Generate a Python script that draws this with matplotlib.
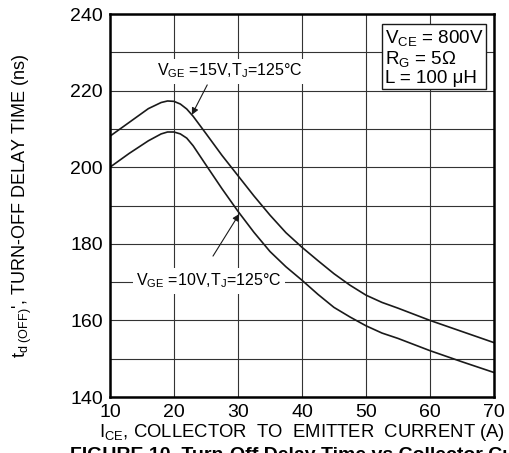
import numpy as np
import matplotlib.pyplot as plt

plt.rcParams['font.family'] = ['Liberation Sans', 'DejaVu Sans']
plt.rcParams['mathtext.fontset'] = 'custom'
plt.rcParams['mathtext.rm'] = 'Liberation Sans'
plt.rcParams['mathtext.it'] = 'Liberation Sans'

# values
ice = [10, 13, 16, 18, 19, 20, 21, 22, 23, 25, 27.5, 30, 32.5, 35, 37.5, 40, 42.5, 45, 47.5, 50, 52.5, 55, 57.5, 60, 65, 70]
td_15v = [208.1, 211.7, 215.3, 216.9, 217.3, 217.2, 216.5, 215.2, 213.3, 208.8, 203.1, 197.8, 192.5, 187.5, 182.9, 179.1,
          175.6, 172.2, 169.2, 166.6, 164.7, 163.2, 161.6, 160.0, 157.1, 154.2]
td_10v = [200.0, 203.6, 206.9, 208.7, 209.2, 209.2, 208.7, 207.6, 205.6, 200.6, 194.4, 188.5, 183.0, 178.0, 174.0, 170.5,
          166.8, 163.4, 160.9, 158.6, 156.7, 155.3, 153.7, 152.1, 149.2, 146.4]

x_ticks = [10, 20, 30, 40, 50, 60, 70]
y_ticks = [140, 160, 180, 200, 220, 240]

fig = plt.figure(figsize=(5.09, 4.53), dpi=100)
ax = fig.add_axes([0.216, 0.1236, 0.7545, 0.8454])

ax.plot(ice, td_15v, color='#1a1a1a', lw=1.2, zorder=3)
ax.plot(ice, td_10v, color='#1a1a1a', lw=1.2, zorder=3)

ax.set_xlim(10, 70)
ax.set_ylim(140, 240)
ax.set_xticks(x_ticks)
ax.set_yticks(y_ticks)
ax.set_xticks(np.arange(10, 71, 10), minor=True)
ax.set_yticks(np.arange(140, 241, 10), minor=True)
ax.grid(True, which='both', color='#333333', lw=0.8)
ax.tick_params(which='both', length=0, labelsize=14, pad=5)
for s in ax.spines.values():
    s.set_linewidth(1.8)
    s.set_zorder(4)

ax.set_xlabel(r'I$_{\mathregular{CE}}$, COLLECTOR  TO  EMITTER  CURRENT (A)', fontsize=13.3, labelpad=1)
ax.set_ylabel(r"t$_{\mathregular{d\ (OFF)}}$', TURN-OFF DELAY TIME (ns)", fontsize=13)
ax.yaxis.set_label_coords(-0.198, 0.5)

# curve labels with leader arrows
bb = dict(boxstyle='square,pad=0.2', fc='white', ec='none')
ax.text(28.7, 225.1, r'V$_{\mathregular{GE}}$ =15V,T$_{\mathregular{J}}$=125°C', fontsize=11.5,
        ha='center', va='center', bbox=bb, zorder=5)
ax.text(25.5, 170.3, r'V$_{\mathregular{GE}}$ =10V,T$_{\mathregular{J}}$=125°C', fontsize=11.5,
        ha='center', va='center', bbox=bb, zorder=5)
arrow = dict(arrowstyle='-|>', color='#1a1a1a', lw=0.8, mutation_scale=10, shrinkA=0, shrinkB=0)
ax.annotate('', xy=(22.8, 213.7), xytext=(25.2, 221.5), arrowprops=arrow, zorder=5)
ax.annotate('', xy=(30.2, 187.8), xytext=(26.1, 176.8), arrowprops=arrow, zorder=5)

ax.text(0.715, 0.963, 'V$_{\\mathregular{CE}}$ = 800V\nR$_{\\mathregular{G}}$ = 5Ω\nL = 100 μH', transform=ax.transAxes,
        fontsize=13.5, ha='left', va='top', linespacing=1.05, zorder=5,
        bbox=dict(boxstyle='square,pad=0.15', fc='white', ec='#1a1a1a', lw=1.0))

fig.text(0.137, -0.0155, 'FIGURE 10. Turn-Off Delay Time vs Collector Current', fontsize=14, fontweight='bold',
         ha='left', va='baseline')

fig.savefig('out.png', dpi=100)
